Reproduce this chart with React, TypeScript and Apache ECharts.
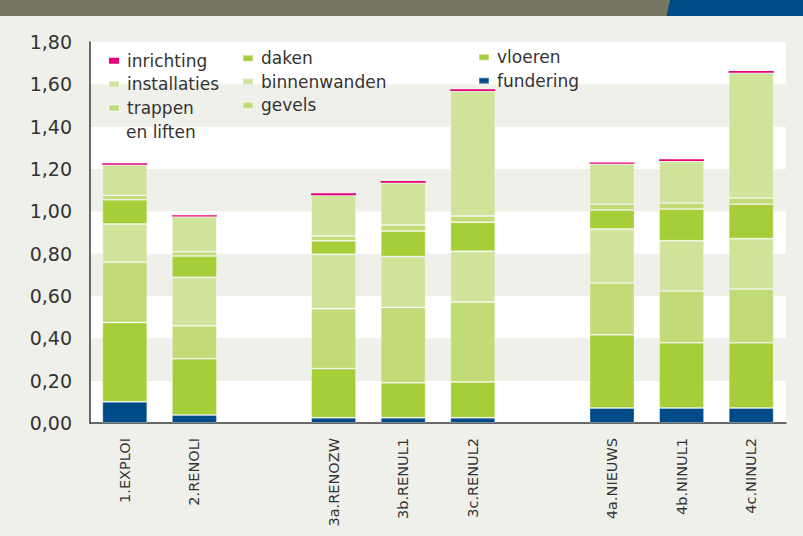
import React, { useEffect, useRef } from "react";
import * as echarts from "echarts";

const categories = ["1.EXPLOI", "2.RENOLI", " ", "3a.RENOZW", "3b.RENUL1", "3c.RENUL2", "  ", "4a.NIEUWS", "4b.NINUL1", "4c.NINUL2"];

const fundering = [0.1, 0.038, null, 0.025, 0.025, 0.025, null, 0.071, 0.071, 0.071];
const vloeren = [0.375, 0.266, null, 0.232, 0.165, 0.169, null, 0.346, 0.308, 0.308];
const gevels = [0.285, 0.156, null, 0.283, 0.356, 0.378, null, 0.244, 0.245, 0.254];
const binnenwanden = [0.18, 0.228, null, 0.257, 0.241, 0.239, null, 0.255, 0.237, 0.238];
const daken = [0.115, 0.101, null, 0.064, 0.12, 0.138, null, 0.09, 0.15, 0.163];
const trappen = [0.02, 0.02, null, 0.022, 0.028, 0.029, null, 0.028, 0.028, 0.029];
const installaties = [0.145, 0.167, null, 0.193, 0.2, 0.59, null, 0.191, 0.199, 0.592];
const inrichting = [0.007, 0.005, null, 0.009, 0.008, 0.009, null, 0.006, 0.008, 0.008];

const yTicks = { min: 0, max: 1.8, interval: 0.2 };

const FONT = "DejaVu Sans";
const TXT = "#333333";

export default function App() {
  const ref = useRef<HTMLDivElement>(null);
  useEffect(() => {
    if (!ref.current) return;
    const chart = echarts.init(ref.current, null, { renderer: "svg" });
    const mk = (name: string, data: (number | null)[], color: string, border = true) => ({
      name,
      type: "bar",
      stack: "total",
      barWidth: 45,
      data,
      itemStyle: border
        ? { color, borderColor: "rgba(255,255,255,0.3)", borderWidth: 1 }
        : { color, borderWidth: 0 },
      emphasis: { disabled: true },
    });
    const legendBase = {
      orient: "vertical",
      itemGap: 0,
      itemWidth: 10,
      itemHeight: 6,
      padding: 0,
      icon: "rect",
      selectedMode: false,
      textStyle: { fontSize: 17, lineHeight: 23.5, color: TXT, fontFamily: FONT, padding: [0, 0, 0, 3] },
    };
    chart.setOption({
      animation: false,
      backgroundColor: "#f0f0ea",
      textStyle: { fontFamily: FONT },
      grid: { left: 90, right: 17, top: 42, bottom: 113, containLabel: false },
      legend: [
        { ...legendBase, left: 108, top: 49, data: ["inrichting", "installaties"] },
        {
          ...legendBase,
          left: 108,
          top: 96.25,
          data: ["trappen en liften"],
          formatter: () => "trappen",
        },
        { ...legendBase, left: 242, top: 46.5, data: ["daken", "binnenwanden", "gevels"] },
        { ...legendBase, left: 478, top: 45.5, data: ["vloeren", "fundering"] },
      ],
      xAxis: {
        type: "category",
        data: categories,
        axisTick: { show: false },
        axisLine: { lineStyle: { color: "#3a3a3a", width: 1.5 } },
        axisLabel: { rotate: 90, fontSize: 14.5, color: TXT, margin: 15, interval: 0, fontFamily: FONT },
      },
      yAxis: {
        type: "value",
        min: yTicks.min,
        max: yTicks.max,
        interval: yTicks.interval,
        axisLine: { show: true, lineStyle: { color: "#3a3a3a", width: 1.5 } },
        axisTick: { show: false },
        splitLine: { show: false },
        splitArea: { show: true, areaStyle: { color: ["#ffffff", "#f0f0ea"] } },
        axisLabel: {
          fontSize: 19,
          color: TXT,
          margin: 18,
          fontFamily: FONT,
          formatter: (v: number) => v.toFixed(2).replace(".", ","),
        },
      },
      graphic: [
        { type: "rect", left: 0, top: 0, shape: { width: 803, height: 16 }, style: { fill: "#787660" }, silent: true },
        {
          type: "polygon",
          shape: { points: [[670, 0], [803, 0], [803, 16], [666.5, 16]] },
          style: { fill: "#004b87" },
          silent: true,
        },
        {
          type: "text",
          x: 126,
          y: 131.7,
          z: 100,
          silent: true,
          style: {
            text: "en liften",
            fontSize: 17,
            fontFamily: FONT,
            fill: TXT,
            align: "left",
            verticalAlign: "middle",
          },
        },
      ],
      series: [
        mk("fundering", fundering, "#004b87"),
        mk("vloeren", vloeren, "#a6ce39"),
        mk("gevels", gevels, "#c1db76"),
        mk("binnenwanden", binnenwanden, "#d0e39b"),
        mk("daken", daken, "#a6ce39"),
        mk("trappen en liften", trappen, "#c1db76"),
        mk("installaties", installaties, "#d0e39b"),
        mk("inrichting", inrichting, "#e5007d", false),
      ],
    });
    return () => chart.dispose();
  }, []);
  return <div ref={ref} style={{ position: "fixed", left: 0, top: 0, width: 803, height: 536 }} />;
}
